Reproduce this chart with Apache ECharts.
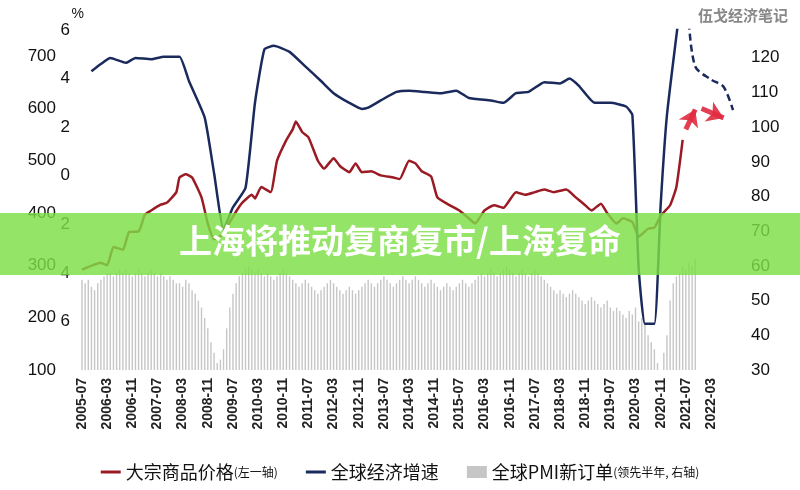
<!DOCTYPE html>
<html><head><meta charset="utf-8">
<script src="https://cdn.jsdelivr.net/npm/echarts@6/dist/echarts.min.js"></script>
<style>html,body{margin:0;padding:0;background:#fff}#c{width:800px;height:490px}</style>
</head><body><div id="c"></div>
<script>
// categories: monthly 2005-07 .. 2022-10
const months = [];
for (let y = 2005, m = 7; y < 2022 || (y === 2022 && m <= 10); ) {
  months.push(y + '-' + String(m).padStart(2, '0'));
  m++; if (m > 12) { m = 1; y++; }
}
// Commodity price (left axis 1), key readings
const priceData = [
 ['2005-07',292],['2006-01',305],['2006-03',300],['2006-05',335],['2006-08',330],['2006-10',364],
 ['2007-01',365],['2007-03',397],['2007-05',405],['2007-08',416],['2007-10',420],['2008-01',440],
 ['2008-02',468],['2008-04',474],['2008-06',468],['2008-09',430],['2008-11',380],['2009-01',350],
 ['2009-04',360],['2009-05',372],['2009-08',403],['2009-10',420],['2010-01',435],['2010-02',428],
 ['2010-04',450],['2010-07',440],['2010-09',500],['2010-12',540],['2011-02',560],['2011-03',575],
 ['2011-05',555],['2011-07',545],['2011-10',500],['2011-12',485],['2012-03',505],['2012-05',490],
 ['2012-08',478],['2012-10',495],['2012-12',478],['2013-03',480],['2013-06',472],['2013-10',468],
 ['2013-12',465],['2014-03',500],['2014-05',495],['2014-07',480],['2014-10',470],['2014-12',430],
 ['2015-03',418],['2015-07',405],['2015-10',390],['2015-12',380],['2016-03',405],['2016-06',415],
 ['2016-09',410],['2017-01',440],['2017-04',435],['2017-07',440],['2017-10',445],['2018-01',440],
 ['2018-05',445],['2018-08',430],['2018-11',415],['2019-01',405],['2019-04',418],['2019-06',400],
 ['2019-09',380],['2019-11',390],['2020-02',383],['2020-04',355],['2020-07',370],['2020-09',372],
 ['2020-11',395],['2021-02',415],['2021-04',450],['2021-06',540]
];
// Global growth (%), key readings
const growthData = [
 ['2005-10',4.3],['2006-01',4.6],['2006-04',4.85],['2006-09',4.65],['2006-12',4.85],['2007-05',4.8],
 ['2007-09',4.9],['2008-02',4.9],['2008-05',3.9],['2008-10',2.4],['2009-01',0.1],['2009-04',-2.2],
 ['2009-07',-1.3],['2009-11',-0.5],['2010-02',3.0],['2010-05',5.2],['2010-08',5.35],['2011-01',5.1],
 ['2011-06',4.5],['2011-11',3.9],['2012-03',3.4],['2012-08',3.0],['2012-12',2.75],['2013-02',2.8],
 ['2013-06',3.1],['2013-11',3.45],['2014-03',3.5],['2014-08',3.45],['2015-01',3.4],['2015-06',3.5],
 ['2015-10',3.2],['2016-05',3.1],['2016-09',3.0],['2017-01',3.4],['2017-05',3.45],['2017-10',3.85],
 ['2018-03',3.8],['2018-06',4.0],['2018-09',3.7],['2019-02',3.0],['2019-07',3.0],['2019-12',2.85],
 ['2020-02',2.5],['2020-04',-3.8],['2020-06',-6.1],['2020-09',-6.1],['2020-11',-1.2],['2021-01',2.5],
 ['2021-05',6.8]
];
const growthForecast = [['2021-08',6.3],['2021-10',4.5],['2022-03',3.96],['2022-07',3.66],['2022-10',2.7]];
// Global PMI new orders (lead half year, right axis), monthly from 2005-07
const pmiData = [
 56,55,56,54,53,55,56,57,58,58,57,
 58,59,58,59,58,57,58,59,58,57,58,59,58,57,58,57,56,57,56,55,
 55,54,56,55,53,52,50,48,45,42,
 38,35,32,33,36,42,48,52,
 55,57,58,59,60,59,58,59,58,57,58,57,
 56,57,58,59,58,57,56,55,54,55,56,55,54,53,52,53,54,55,56,55,
 54,53,52,53,54,53,52,53,54,55,56,55,54,55,56,57,56,55,54,55,
 56,57,56,55,56,57,56,55,54,55,56,55,54,53,54,55,54,53,54,55,
 56,55,54,55,56,57,58,57,58,59,58,57,58,59,60,59,58,57,58,59,
 58,57,58,59,58,57,56,55,54,53,52,53,52,51,52,53,52,51,50,49,
 50,51,50,49,48,49,50,48,47,48,47,46,45,47,46,
 48,44,45,43,40,38,36,32,30,35,40,50,55,57,58,60,59,61,60,62
];

const chart = echarts.init(document.getElementById('c'));
const lab = {color:'#111', fontSize:17, fontFamily:'Liberation Sans, Arial'};
const lineIcon = 'path://M0,0H20V3H0Z';
chart.setOption({
  animation:false,
  backgroundColor:'#fff',
  grid:{left:82, right:67, top:30, bottom:120},
  xAxis:{type:'category', data:months, boundaryGap:false,
    axisLine:{show:false}, axisTick:{show:false},
    axisLabel:{interval:7, rotate:90, color:'#222', fontSize:14, fontWeight:'bold', margin:8, fontFamily:'Liberation Sans, Arial'}},
  yAxis:[
    {type:'value', min:100, max:750, interval:100, position:'left', offset:22,
     splitLine:{show:false}, axisLine:{show:false}, axisTick:{show:false},
     axisLabel:Object.assign({showMaxLabel:false, margin:4}, lab)},
    {type:'value', min:-8, max:6, interval:2, position:'left',
     name:'%', nameGap:6, nameTextStyle:{color:'#111', fontSize:14, align:'right', padding:[0,-2,0,0]},
     splitLine:{show:false}, axisLine:{show:false}, axisTick:{show:false},
     axisLabel:Object.assign({showMinLabel:false, margin:12, formatter:v=>String(Math.abs(v))}, lab)},
    {type:'value', min:30, max:128, interval:10, position:'right',
     splitLine:{show:false}, axisLine:{show:false}, axisTick:{show:false},
     axisLabel:Object.assign({showMaxLabel:false, margin:18}, lab)}
  ],
  legend:{bottom:4, left:'center', itemGap:28, itemWidth:20, itemHeight:12,
    textStyle:{fontSize:18, color:'#111', fontFamily:'Noto Sans CJK SC', rich:{s:{fontSize:12,color:'#111', fontFamily:'Noto Sans CJK SC'}}},
    formatter:n=>({'大宗商品价格':'大宗商品价格{s|(左一轴)}','全球经济增速':'全球经济增速','全球PMI新订单':'全球PMI新订单{s|(领先半年, 右轴)}'})[n],
    data:[{name:'大宗商品价格', icon:lineIcon, itemStyle:{color:'#9b1b24'}},
          {name:'全球经济增速', icon:lineIcon, itemStyle:{color:'#1a2a5c'}},
          {name:'全球PMI新订单', icon:'rect', itemStyle:{color:'#c6c6c6'}}]},
  series:[
    {name:'全球PMI新订单', type:'bar', yAxisIndex:2, data:pmiData, barWidth:1.4,
     itemStyle:{color:'#c6c6c6'}},
    {name:'大宗商品价格', type:'line', yAxisIndex:0, data:priceData, symbol:'none', smooth:0.15,
     lineStyle:{color:'#9b1b24', width:2.5},
     markLine:{silent:true, symbol:['none','arrow'], symbolSize:16, label:{show:false},
       lineStyle:{color:'#e02a40', width:5, type:'solid', opacity:0.9},
       data:[[{coord:['2021-07',560]},{coord:['2021-10',598]}],
             [{coord:['2021-12',600]},{coord:['2022-07',582]}]]}},
    {name:'全球经济增速', type:'line', yAxisIndex:1, data:growthData, symbol:'none', smooth:0.15,
     lineStyle:{color:'#1a2a5c', width:2.5}},
    {name:'全球经济增速预测', type:'line', yAxisIndex:1, data:growthForecast, symbol:'none', smooth:0.3,
     lineStyle:{color:'#1a2a5c', width:2.5, type:[7,4]}}
  ],
  graphic:[
    {type:'text', right:12, top:8, style:{text:'伍戈经济笔记', fill:'#888', fontSize:15, fontWeight:'bold', fontFamily:'Noto Sans CJK SC'}},
    {type:'rect', left:0, top:213, z:100, shape:{width:800, height:62}, style:{fill:'rgba(125,222,70,0.82)'}},
    {type:'text', left:'center', top:224, z:101, style:{text:'上海将推动复商复市/上海复命', fill:'#fff', fontSize:33, fontWeight:'bold', fontFamily:'Noto Sans CJK SC'}}
  ]
});
</script></body></html>
